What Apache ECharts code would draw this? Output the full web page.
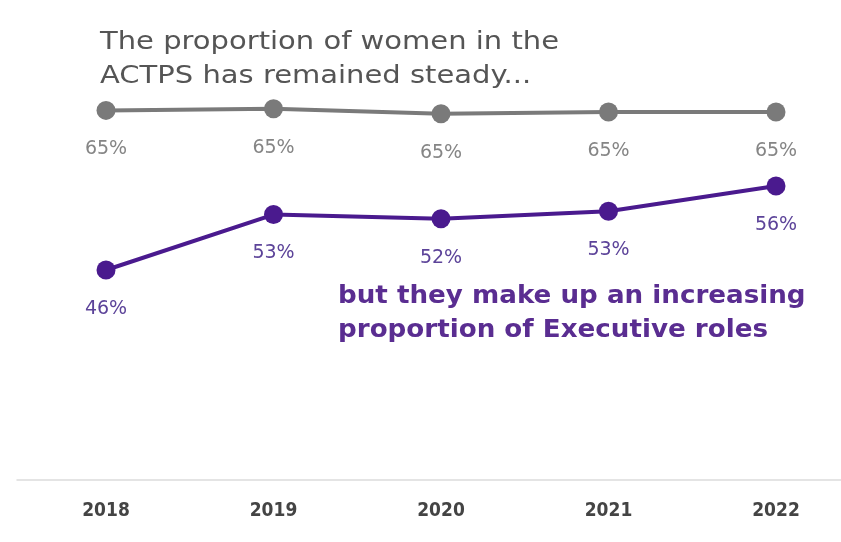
<!DOCTYPE html>
<html><head><meta charset="utf-8">
<script src="https://cdn.jsdelivr.net/npm/echarts@6/dist/echarts.min.js"></script>
<style>html,body{margin:0;padding:0;background:#fff}#c{width:841px;height:542px}</style>
</head><body><div id="c"></div>
<script>
const years = ['2018','2019','2020','2021','2022'];
const allStaff = [65.0, 65.2, 64.6, 64.8, 64.8];
const allStaffLabels = ['65%','65%','65%','65%','65%'];
const executive = [46.0, 52.6, 52.1, 53.0, 56.0];
const executiveLabels = ['46%','53%','52%','53%','56%'];
const noteTop = ['The proportion of women in the', 'ACTPS has remained steady...'];
const noteBottom = ['but they make up an increasing', 'proportion of Executive roles'];

const FONT = '"DejaVu Sans", "Noto Sans", sans-serif';
const chart = echarts.init(document.getElementById('c'), null, {renderer:'canvas'});
chart.setOption({
  backgroundColor:'#ffffff',
  animation:false,
  grid:[
    {left:106, right:65, top:51.6, bottom:62},
    {left:17, right:0, top:51.6, bottom:62}
  ],
  xAxis:[
    {type:'category', data:years, boundaryGap:false, gridIndex:0,
     axisLine:{show:false}, axisTick:{show:false},
     axisLabel:{color:'#444444', fontSize:19, fontWeight:'bold', fontFamily:'"Liberation Sans Narrow", "DejaVu Sans Condensed", sans-serif', margin:22}},
    {type:'value', gridIndex:1, min:0, max:1, axisLine:{show:true, lineStyle:{color:'#dcdcdc', width:1.5}},
     axisTick:{show:false}, axisLabel:{show:false}, splitLine:{show:false}}
  ],
  yAxis:[
    {type:'value', gridIndex:0, min:21, max:72, show:false, splitLine:{show:false}},
    {type:'value', gridIndex:1, min:0, max:1, show:false, splitLine:{show:false}}
  ],
  series:[
    {type:'line', data:allStaff, symbol:'circle', symbolSize:19,
     lineStyle:{color:'#7a7a7a', width:4}, itemStyle:{color:'#7a7a7a'},
     label:{show:true, position:'bottom', distance:20, color:'#858585', fontSize:19, fontFamily:FONT,
       formatter:p=>allStaffLabels[p.dataIndex]}},
    {type:'line', data:executive, symbol:'circle', symbolSize:19,
     lineStyle:{color:'#4a1a8e', width:4}, itemStyle:{color:'#4a1a8e'},
     label:{show:true, position:'bottom', distance:20, color:'#5c4399', fontSize:19, fontFamily:FONT,
       formatter:p=>executiveLabels[p.dataIndex]}}
  ],
  graphic:[
    {type:'text', left:100, top:25, scaleX:1.16, style:{text:noteTop.join('\n'), fill:'#555555', font:'25px '+FONT, lineHeight:34}},
    {type:'text', left:338, top:280, scaleX:1.09, style:{text:noteBottom.join('\n'), fill:'#5a2d91', font:'bold 24px '+FONT, lineHeight:34}}
  ]
});
</script></body></html>
